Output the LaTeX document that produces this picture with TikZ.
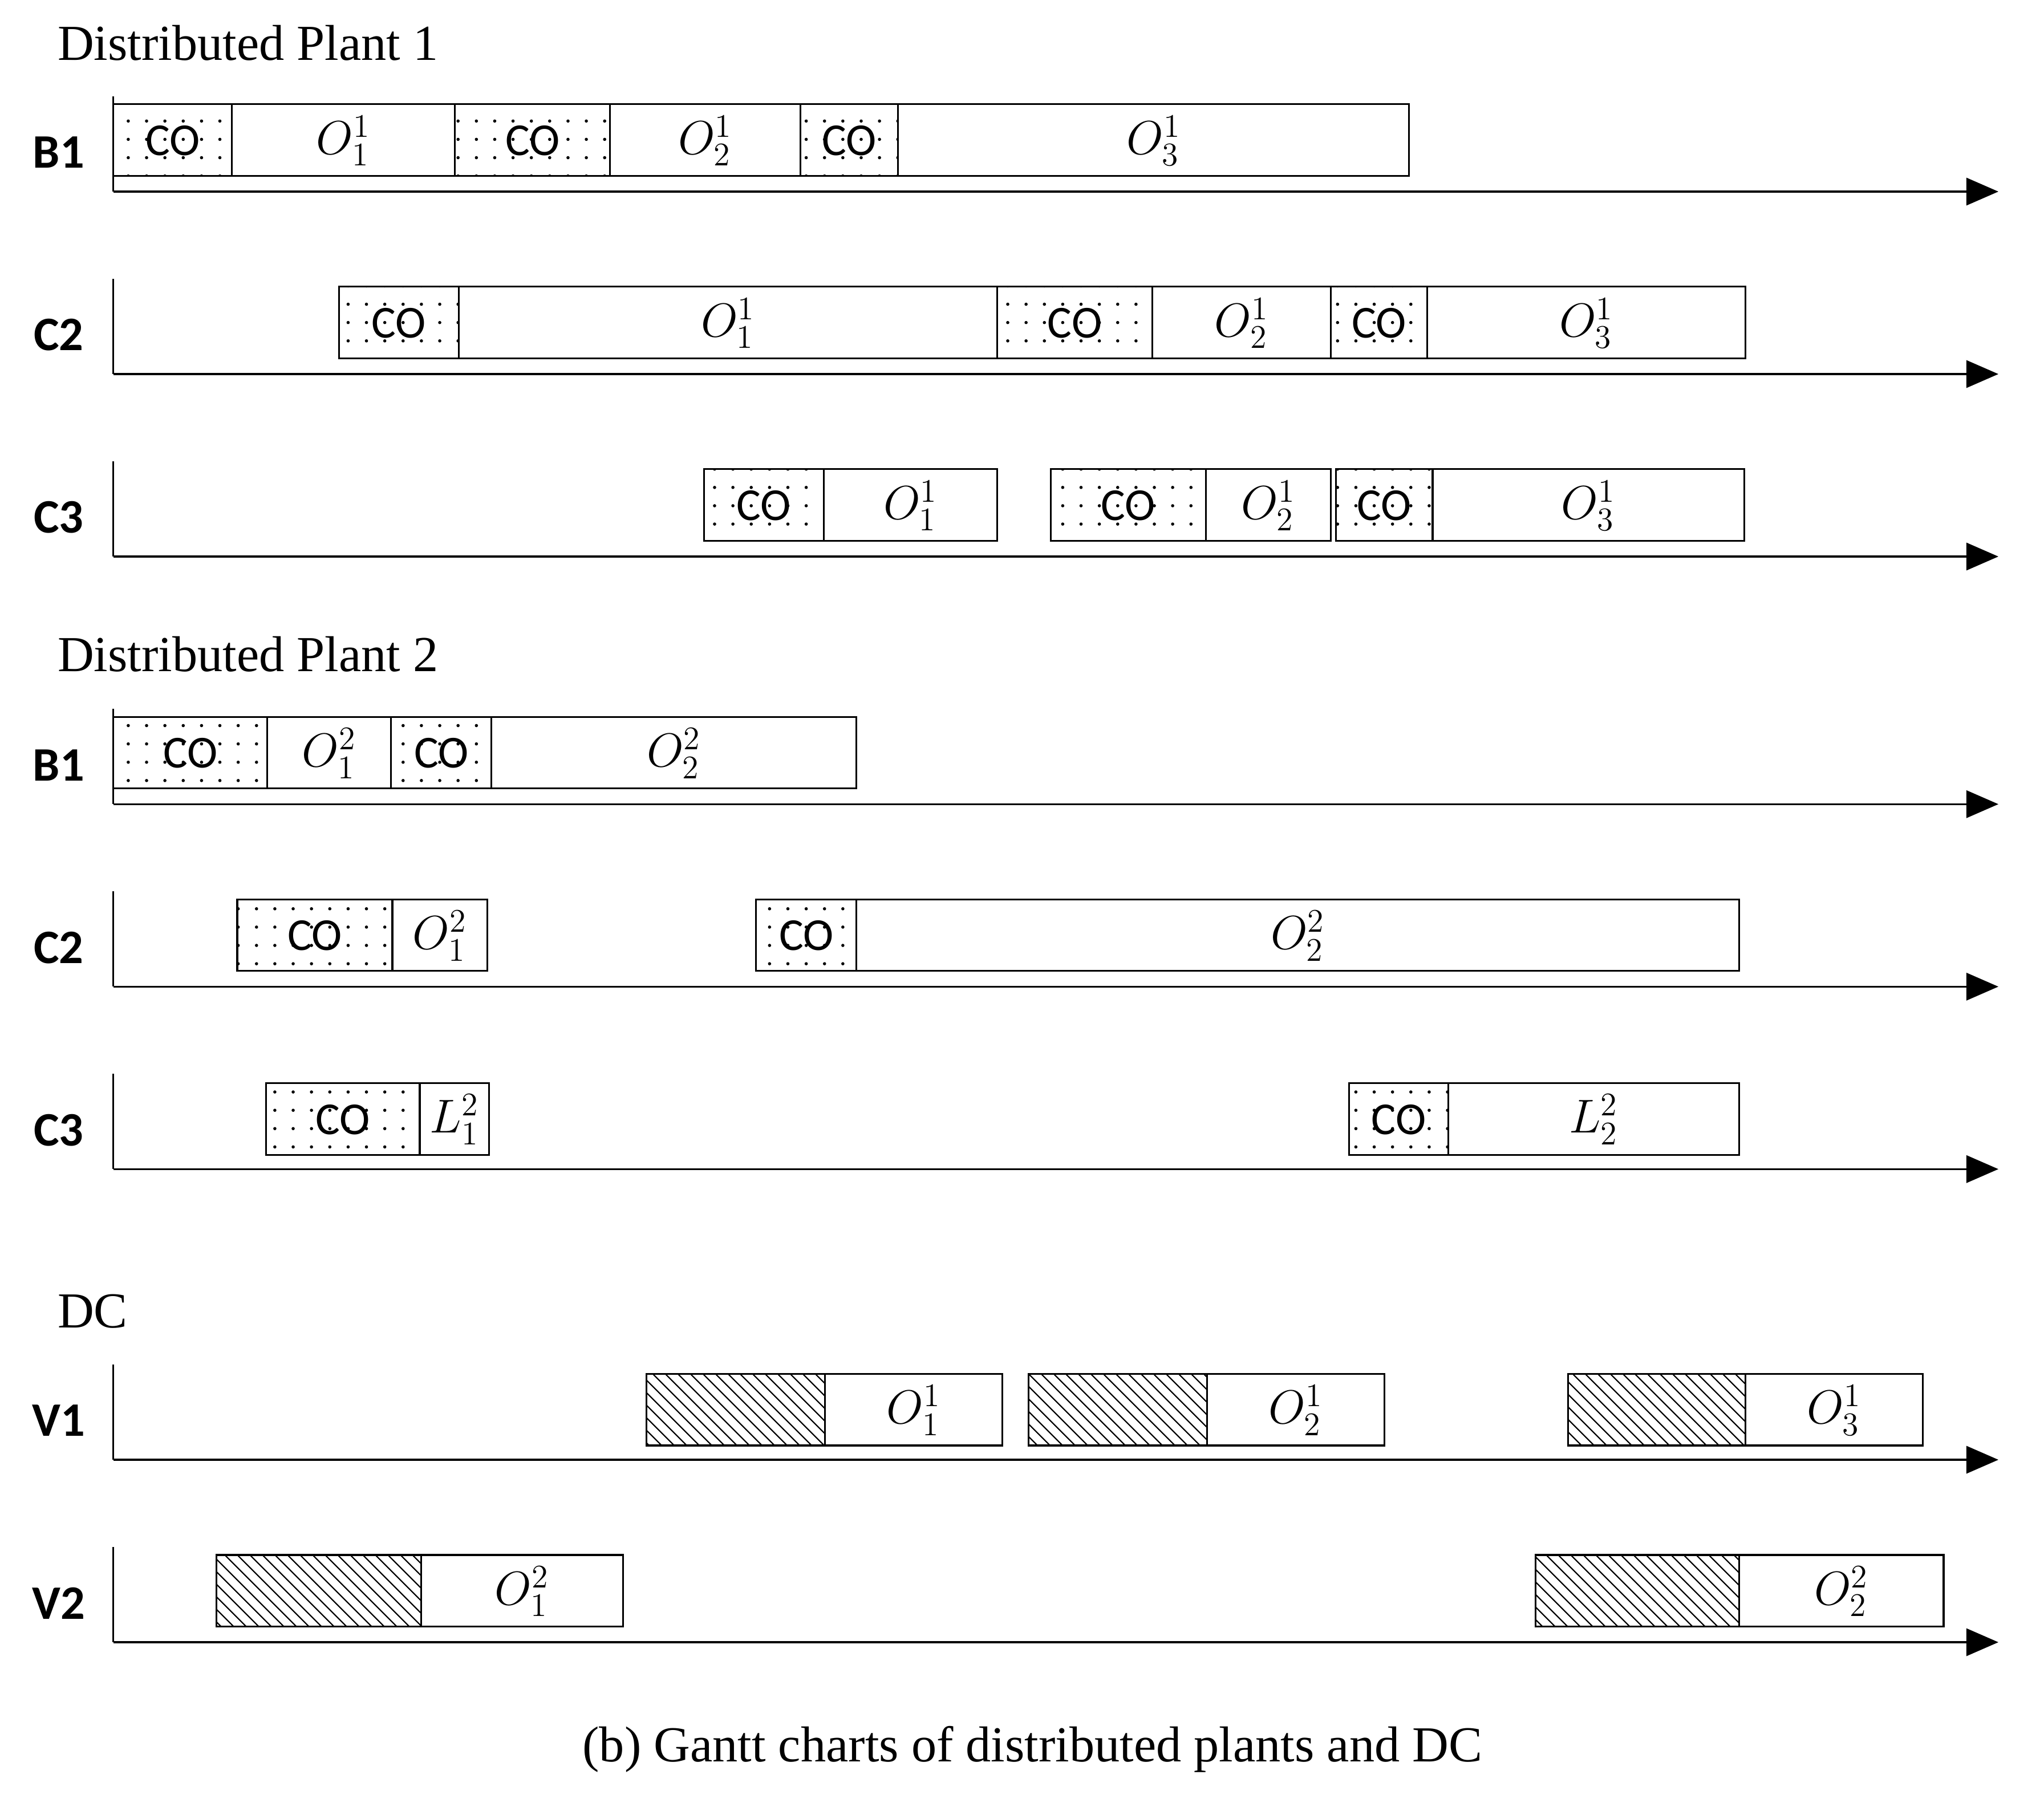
\documentclass[tikz,border=0pt]{standalone}
\usepackage{fontspec}
\setmainfont{Liberation Serif}
\newfontfamily\cofont{Carlito}
\usetikzlibrary{arrows.meta,patterns.meta}

\tikzset{
  codots/.style={draw, thick, pattern={Dots[distance=8pt,radius=0.7pt]}},
  hatch/.style={draw, thick, pattern={Lines[angle=-45,distance=4pt,line width=0.6pt]}},
  plain/.style={draw, thick},
  rowlabel/.style={font=\cofont\bfseries\fontsize{21}{24}\selectfont},
  title/.style={anchor=west, font=\fontsize{22}{26}\selectfont},
  bartext/.style={font=\fontsize{22}{26}\selectfont},
}
% task bar: x1, x2, top y, style, label
\newcommand{\task}[5]{%
  \draw[#4] (#1,#3) rectangle (#2,#3+55);
  \node[bartext] at ({(#1+#2)/2},#3+28) {#5};}
\newcommand{\COt}{{\cofont\fontsize{20}{24}\selectfont CO}}
% machine row: name, axis y
\newcommand{\machine}[2]{%
  \node[rowlabel] at (45,#2-30) {#1};
  \draw[thick] (87,#2-73) -- (87,#2);
  \draw[thick, -{Triangle[length=14pt,width=12pt]}] (87,#2) -- (1533,#2);}

\begin{document}
\begin{tikzpicture}[x=0.02cm, y=-0.02cm]
\useasboundingbox (0,0) rectangle (1568,1386);

%% Distributed Plant 1
\node[title] (p1) at (38,33) {Distributed Plant 1};
\machine{B1}{147}
\task{87}{178}{80}{codots}{\COt}
\task{178}{349}{80}{plain}{$O_1^1$}
\task{349}{468}{80}{codots}{\COt}
\task{468}{614}{80}{plain}{$O_2^1$}
\task{614}{689}{80}{codots}{\COt}
\task{689}{1081}{80}{plain}{$O_3^1$}

\machine{C2}{287}
\task{260}{352}{220}{codots}{\COt}
\task{352}{765}{220}{plain}{$O_1^1$}
\task{765}{884}{220}{codots}{\COt}
\task{884}{1021}{220}{plain}{$O_2^1$}
\task{1021}{1095}{220}{codots}{\COt}
\task{1095}{1339}{220}{plain}{$O_3^1$}

\machine{C3}{427}
\task{540}{632}{360}{codots}{\COt}
\task{632}{765}{360}{plain}{$O_1^1$}
\task{806}{925}{360}{codots}{\COt}
\task{925}{1021}{360}{plain}{$O_2^1$}
\task{1025}{1099}{360}{codots}{\COt}
\task{1099}{1338}{360}{plain}{$O_3^1$}

%% Distributed Plant 2
\node[title] (p2) at (38,502) {Distributed Plant 2};
\machine{B1}{617}
\task{87}{205}{550}{codots}{\COt}
\task{205}{300}{550}{plain}{$O_1^2$}
\task{300}{377}{550}{codots}{\COt}
\task{377}{657}{550}{plain}{$O_2^2$}

\machine{C2}{757}
\task{182}{301}{690}{codots}{\COt}
\task{301}{374}{690}{plain}{$O_1^2$}
\task{580}{657}{690}{codots}{\COt}
\task{657}{1334}{690}{plain}{$O_2^2$}

\machine{C3}{897}
\task{204}{322}{831}{codots}{\COt}
\task{322}{375}{831}{plain}{$L_1^2$}
\task{1035}{1111}{831}{codots}{\COt}
\task{1111}{1334}{831}{plain}{$L_2^2$}

%% DC
\node[title] (dc) at (38,1006) {DC};
\machine{V1}{1120}
\task{496}{633}{1054}{hatch}{}
\task{633}{769}{1054}{plain}{$O_1^1$}
\task{789}{926}{1054}{hatch}{}
\task{926}{1062}{1054}{plain}{$O_2^1$}
\task{1203}{1339}{1054}{hatch}{}
\task{1339}{1475}{1054}{plain}{$O_3^1$}

\machine{V2}{1260}
\task{166}{323}{1193}{hatch}{}
\task{323}{478}{1193}{plain}{$O_1^2$}
\task{1178}{1334}{1193}{hatch}{}
\task{1334}{1491}{1193}{plain}{$O_2^2$}

\node[title, anchor=center] (cap) at (792,1342) {(b) Gantt charts of distributed plants and DC};
\end{tikzpicture}
\end{document}
